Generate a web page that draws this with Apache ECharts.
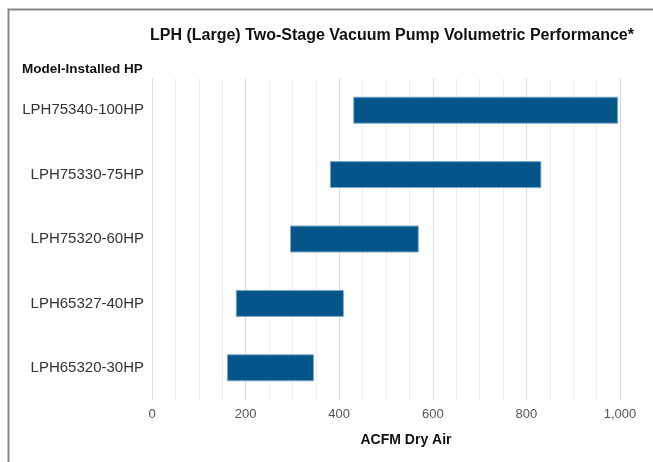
<!DOCTYPE html>
<html>
<head>
<meta charset="utf-8">
<script src="https://cdn.jsdelivr.net/npm/echarts@6/dist/echarts.min.js"></script>
<style>
  html, body { margin: 0; padding: 0; background: #fff; }
  #chart { width: 653px; height: 462px; }
</style>
</head>
<body>
<div id="chart"></div>
<script>
var models = ['LPH75340-100HP', 'LPH75330-75HP', 'LPH75320-60HP', 'LPH65327-40HP', 'LPH65320-30HP'];
var acfmMin = [430, 380, 295, 179, 160];
var acfmMax = [996, 832, 570, 410, 346];

var chart = echarts.init(document.getElementById('chart'));

// 区间长度 = 最大值 - 最小值
var rangeData = [];
for (var i = 0; i < models.length; i++) {
    rangeData.push(acfmMax[i] - acfmMin[i]);
}

var font = 'Liberation Sans, Arial, sans-serif';

var option = {
    animation: false,
    graphic: [{
        type: 'rect',
        shape: { x: 8.5, y: 9.5, width: 700, height: 500 },
        style: { fill: 'none', stroke: '#8a8480', lineWidth: 2 },
        silent: true
    }, {
        type: 'text',
        x: 22,
        y: 69,
        style: { text: 'Model-Installed HP', font: 'bold 13.5px ' + font, fill: '#111', verticalAlign: 'middle' }
    }, {
        type: 'text',
        x: 406,
        y: 440,
        style: { text: 'ACFM Dry Air', font: 'bold 14px ' + font, fill: '#111', align: 'center', verticalAlign: 'middle' }
    }],
    title: {
        text: 'LPH (Large) Two-Stage Vacuum Pump Volumetric Performance*',
        left: 387,
        textAlign: 'center',
        top: 23,
        textStyle: { fontFamily: font, fontSize: 16, fontWeight: 'bold', color: '#111' }
    },
    grid: { left: 152, right: 33, top: 78, bottom: 62 },
    xAxis: {
        type: 'value',
        min: 0,
        max: 1000,
        interval: 200,
        axisLine: { show: false },
        axisTick: { show: false },
        axisLabel: {
            fontFamily: font, fontSize: 13, color: '#555', margin: 8,
            formatter: function(v) { return v.toLocaleString('en-US'); }
        },
        splitLine: { show: true, lineStyle: { color: '#dcdcdc', width: 1 } },
        minorTick: { show: false, splitNumber: 4 },
        minorSplitLine: { show: true, lineStyle: { color: '#eeeeee', width: 1 } }
    },
    yAxis: {
        type: 'category',
        data: models,
        inverse: true,
        axisLine: { show: false },
        axisTick: { show: false },
        axisLabel: { fontFamily: font, fontSize: 15, color: '#333', margin: 8 }
    },
    series: [{
        name: 'base',
        type: 'bar',
        stack: 'range',
        data: acfmMin,
        barWidth: 27,
        itemStyle: { color: 'transparent' },
        silent: true
    }, {
        name: 'ACFM',
        type: 'bar',
        stack: 'range',
        data: rangeData,
        barWidth: 27,
        itemStyle: { color: '#03558a', borderColor: '#7fa9c8', borderWidth: 1 }
    }]
};
chart.setOption(option);
</script>
</body>
</html>
